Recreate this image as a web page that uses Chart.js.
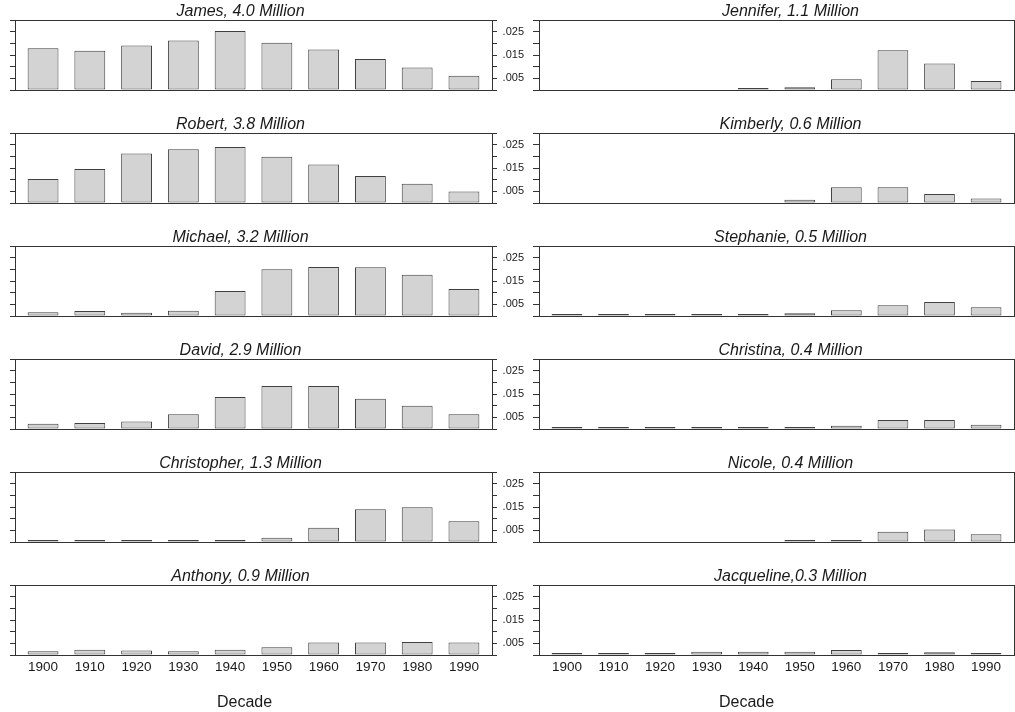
<!DOCTYPE html>
<html>
<head>
<meta charset="utf-8">
<script src="https://cdn.jsdelivr.net/npm/chart.js@4"></script>
<style>
  body { margin: 0; background: #fff; }
  #wrap { position: relative; width: 1015px; height: 712px; overflow: hidden; }
  canvas { position: absolute; }
</style>
</head>
<body>
<div id="wrap"></div>
<script>
// share of births per decade
const decades = [1900, 1910, 1920, 1930, 1940, 1950, 1960, 1970, 1980, 1990];

const james       = [0.0179, 0.0168, 0.0191, 0.0212, 0.0253, 0.0202, 0.0174, 0.0133, 0.0096, 0.0061];
const robert      = [0.0103, 0.0146, 0.0212, 0.0230, 0.0240, 0.0198, 0.0165, 0.0116, 0.0082, 0.0049];
const michael     = [0.0016, 0.0021, 0.0014, 0.0023, 0.0107, 0.0200, 0.0210, 0.0209, 0.0177, 0.0116];
const david       = [0.0023, 0.0026, 0.0032, 0.0063, 0.0137, 0.0184, 0.0184, 0.0130, 0.0100, 0.0063];
const christopher = [0.0002, 0.0002, 0.0002, 0.0002, 0.0004, 0.0018, 0.0061, 0.0140, 0.0149, 0.0089];
const anthony     = [0.0016, 0.0023, 0.0019, 0.0016, 0.0023, 0.0033, 0.0054, 0.0054, 0.0056, 0.0054];

const jennifer    = [null, null, null, null, 0.0007, 0.0012, 0.0046, 0.0170, 0.0114, 0.0039];
const kimberly    = [null, null, null, null, null, 0.0014, 0.0067, 0.0067, 0.0039, 0.0019];
const stephanie   = [0.0003, 0.0003, 0.0003, 0.0003, 0.0005, 0.0012, 0.0025, 0.0046, 0.0060, 0.0037];
const christina   = [0.0002, 0.0002, 0.0002, 0.0002, 0.0002, 0.0005, 0.0014, 0.0039, 0.0039, 0.0018];
const nicole      = [null, null, null, null, null, 0.0002, 0.0004, 0.0044, 0.0054, 0.0033];
const jacqueline  = [0.0002, 0.0002, 0.0007, 0.0014, 0.0014, 0.0014, 0.0021, 0.0009, 0.0012, 0.0009];

const boyTitles  = ['James, 4.0 Million', 'Robert, 3.8 Million', 'Michael, 3.2 Million',
                    'David, 2.9 Million', 'Christopher, 1.3 Million', 'Anthony, 0.9 Million'];
const girlTitles = ['Jennifer, 1.1 Million', 'Kimberly, 0.6 Million', 'Stephanie, 0.5 Million',
                    'Christina, 0.4 Million', 'Nicole, 0.4 Million', 'Jacqueline,0.3 Million'];
const boySeries  = [james, robert, michael, david, christopher, anthony];
const girlSeries = [jennifer, kimberly, stephanie, christina, nicole, jacqueline];

const yTickLabels = ['.005', '.015', '.025'];
const xAxisTitle = 'Decade';

// layout
const rowTops = [20, 133, 246, 359, 472, 585];
const plotH = 70;
const FONT = '"Liberation Sans", Arial, sans-serif';
const INK = '#333';

// draws the top frame line, panel title and the "Decade" label
const panelText = {
    id: 'panelText',
    afterDraw(chart, args, opts) {
        const { ctx, chartArea: a } = chart;
        const mid = (a.left + a.right) / 2;
        ctx.save();
        ctx.strokeStyle = INK;
        ctx.lineWidth = 1;
        ctx.beginPath();
        ctx.moveTo(a.left, a.top + 0.5);
        ctx.lineTo(a.right, a.top + 0.5);
        ctx.stroke();

        ctx.fillStyle = '#1a1a1a';
        ctx.textAlign = 'center';
        ctx.textBaseline = 'alphabetic';
        ctx.font = 'italic 16px ' + FONT;
        ctx.fillText(opts.title, mid + opts.titleShift, a.top - 4);
        if (opts.axisTitle) {
            ctx.font = '16px ' + FONT;
            ctx.fillText(opts.axisTitle, mid + opts.axisTitleShift, a.bottom + 52);
        }
        ctx.restore();
    }
};

// fixed axis sizes, no label overflow padding
function fixWidth(w) {
    return s => { s.width = w; s.paddingTop = 0; s.paddingBottom = 0; };
}

function makePanel(col, row, title, values) {
    const last = row === rowTops.length - 1;
    const left = col === 0 ? 0 : 500;
    const width = col === 0 ? 510 : 515;
    const top = rowTops[row] - 20;
    const height = last ? 712 - top : 20 + plotH + 3;

    const canvas = document.createElement('canvas');
    canvas.width = width;
    canvas.height = height;
    canvas.style.left = left + 'px';
    canvas.style.top = top + 'px';
    document.getElementById('wrap').appendChild(canvas);

    const tickGrid = { drawOnChartArea: false, drawTicks: true, tickLength: col === 0 ? 5 : 6, color: INK };

    new Chart(canvas, {
        type: 'bar',
        data: {
            datasets: [{
                data: decades.map((d, i) => ({ x: d, y: values[i] })),
                backgroundColor: '#d3d3d3',
                borderColor: '#404040',
                borderWidth: 1,
                borderSkipped: false,
                categoryPercentage: 1,
                barPercentage: 0.66,
                minBarLength: 2
            }]
        },
        options: {
            responsive: false,
            animation: false,
            layout: { padding: { top: 20, left: 0, right: 0, bottom: 0 } },
            plugins: {
                legend: { display: false },
                tooltip: { enabled: false },
                panelText: {
                    title: title,
                    titleShift: col === 0 ? -13 : 14,
                    axisTitle: last ? xAxisTitle : null,
                    axisTitleShift: col === 0 ? -9 : -30
                }
            },
            scales: {
                x: {
                    type: 'linear',
                    offset: false,
                    min: 1894,
                    max: 1996,
                    grid: { display: false, drawTicks: false },
                    border: { display: true, color: INK },
                    afterBuildTicks: s => { s.ticks = decades.map(v => ({ value: v })); },
                    afterFit: s => { s.height = height - 20 - plotH; s.paddingLeft = 0; s.paddingRight = 0; },
                    ticks: {
                        display: last,
                        autoSkip: false,
                        maxRotation: 0,
                        padding: 4,
                        color: '#1a1a1a',
                        font: { family: FONT, size: 13.5 },
                        callback: v => String(v)
                    }
                },
                y: {
                    position: 'left',
                    min: 0,
                    max: 0.03,
                    grid: tickGrid,
                    border: { display: true, color: INK },
                    afterFit: fixWidth(col === 0 ? 15 : 39),
                    ticks: {
                        display: col === 1,
                        autoSkip: false,
                        stepSize: 0.005,
                        padding: 9,
                        color: '#1a1a1a',
                        font: { family: FONT, size: 11 },
                        callback: v => {
                            const s = '.' + String(Math.round(v * 1000)).padStart(3, '0');
                            return yTickLabels.includes(s) ? s : '';
                        }
                    }
                },
                yRight: {
                    position: 'right',
                    min: 0,
                    max: 0.03,
                    grid: Object.assign({}, tickGrid, { tickLength: 5 }),
                    border: { display: true, color: INK },
                    afterFit: fixWidth(col === 0 ? 18 : 1),
                    ticks: { display: false, autoSkip: false, stepSize: 0.005 }
                }
            }
        },
        plugins: [panelText]
    });
}

boyTitles.forEach((t, r) => makePanel(0, r, t, boySeries[r]));
girlTitles.forEach((t, r) => makePanel(1, r, t, girlSeries[r]));
</script>
</body>
</html>
